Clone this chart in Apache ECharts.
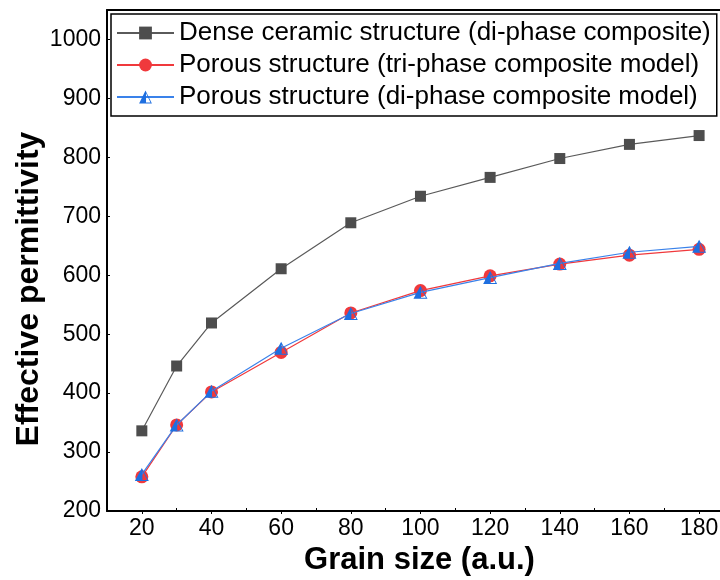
<!DOCTYPE html>
<html>
<head>
<meta charset="utf-8">
<script src="https://cdn.jsdelivr.net/npm/echarts@6/dist/echarts.min.js"></script>
<style>
  html, body { margin: 0; padding: 0; background: #fff; }
  #chart { width: 720px; height: 580px; }
</style>
</head>
<body>
<div id="chart"></div>
<script>
// Grain size values (a.u.)
const grainSizes = [20, 30, 40, 60, 80, 100, 120, 140, 160, 180];

// Effective permittivity for each structure
const denseCeramic = [336, 446, 519, 611, 689, 734, 766, 798, 822, 837];
const porousTriPhase = [258, 346, 402, 469, 536, 574, 599, 619, 634, 644];
const porousDiPhase = [262, 346, 403, 476, 535, 571, 596, 620, 639, 649];

// Series names shown in the legend
const seriesNames = [
  'Dense ceramic structure (di-phase composite)',
  'Porous structure (tri-phase composite model)',
  'Porous structure (di-phase composite model)'
];

// Axis tick positions
const xMajorTicks = [20, 40, 60, 80, 100, 120, 140, 160, 180];
const xMinorTicks = [30, 50, 70, 90, 110, 130, 150, 170];
const yTickLabels = [200, 300, 400, 500, 600, 700, 800, 900, 1000];

// Half-filled triangle: solid left half, outlined right half
const halfTriangle = 'path://M50 0 L100 100 L0 100 Z M54 21 L54 92 L89 92 Z';

function pairs(values) {
  return grainSizes.map((g, i) => [g, values[i]]);
}

const FONT = '"Liberation Sans", Arial, sans-serif';

const chart = echarts.init(document.getElementById('chart'), null, { renderer: 'canvas' });

chart.setOption({
  backgroundColor: '#ffffff',
  animation: false,
  grid: { left: 107, right: 0, top: 10, bottom: 69, containLabel: false, outerBoundsMode: 'none' },
  xAxis: [
    {
      type: 'value',
      min: 10,
      max: 186,
      position: 'bottom',
      name: 'Grain size (a.u.)',
      nameLocation: 'middle',
      nameGap: 31,
      nameTextStyle: { fontFamily: FONT, fontSize: 31, fontWeight: 'bold', color: '#000', padding: [0, 0, 0, 12] },
      axisLine: { show: true, onZero: false, lineStyle: { color: '#000', width: 2 } },
      axisTick: { show: true, inside: false, length: 3, customValues: xMajorTicks, lineStyle: { color: '#000', width: 1 } },
      axisLabel: { customValues: xMajorTicks, fontFamily: FONT, fontSize: 23, color: '#000', margin: 6 },
      splitLine: { show: false }
    },
    {
      type: 'value',
      min: 10,
      max: 186,
      position: 'bottom',
      axisLine: { show: false },
      axisTick: { show: true, inside: true, length: 3, customValues: xMinorTicks, lineStyle: { color: '#000', width: 1 } },
      axisLabel: { show: false },
      splitLine: { show: false }
    },
    {
      type: 'value',
      min: 10,
      max: 186,
      position: 'top',
      axisLine: { show: true, onZero: false, lineStyle: { color: '#000', width: 2 } },
      axisTick: { show: false },
      axisLabel: { show: false },
      splitLine: { show: false }
    }
  ],
  yAxis: {
    type: 'value',
    min: 200,
    max: 1050,
    interval: 100,
    name: 'Effective permittivity',
    nameLocation: 'middle',
    nameGap: 62,
    nameMoveOverlap: false,
    nameTextStyle: { fontFamily: FONT, fontSize: 32, fontWeight: 'bold', color: '#000', padding: [0, 57, 0, 0] },
    axisLine: { show: true, onZero: false, lineStyle: { color: '#000', width: 2 } },
    axisTick: { show: true, inside: true, length: 3, customValues: yTickLabels, lineStyle: { color: '#000', width: 1 } },
    axisLabel: {
      customValues: yTickLabels,
      fontFamily: FONT, fontSize: 23, color: '#000', margin: 6,
      formatter: (v) => String(v)
    },
    splitLine: { show: false }
  },
  legend: {
    left: 111,
    top: 14,
    orient: 'vertical',
    backgroundColor: '#fff',
    borderColor: '#000',
    borderWidth: 1.5,
    borderRadius: 0,
    padding: [6, 6, 6, 5],
    itemWidth: 57,
    itemHeight: 16,
    itemGap: 6,
    textStyle: { fontFamily: FONT, fontSize: 26, color: '#000', lineHeight: 26 },
    data: seriesNames
  },
  series: [
    {
      name: seriesNames[0],
      type: 'line',
      xAxisIndex: 0,
      data: pairs(denseCeramic),
      symbol: 'rect',
      symbolSize: 11,
      itemStyle: { color: '#4d4d4d' },
      lineStyle: { color: '#5a5a5a', width: 1.2 },
      z: 2
    },
    {
      name: seriesNames[1],
      type: 'line',
      xAxisIndex: 0,
      data: pairs(porousTriPhase),
      symbol: 'circle',
      symbolSize: 13,
      itemStyle: { color: '#f0393c' },
      lineStyle: { color: '#f0393c', width: 1.2 },
      z: 3
    },
    {
      name: seriesNames[2],
      type: 'line',
      xAxisIndex: 0,
      data: pairs(porousDiPhase),
      symbol: halfTriangle,
      symbolSize: [14, 13],
      itemStyle: { color: '#1e6fe0' },
      lineStyle: { color: '#3a82ea', width: 1.2 },
      z: 4
    }
  ]
});
</script>
</body>
</html>
